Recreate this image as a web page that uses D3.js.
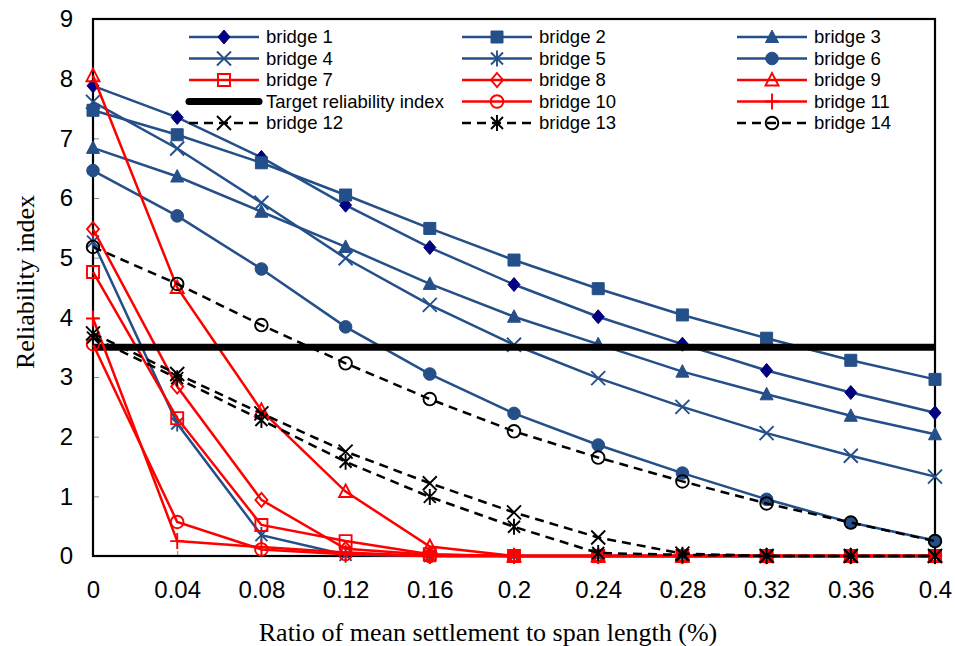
<!DOCTYPE html>
<html lang="en">
<head>
<meta charset="UTF-8">
<title>Reliability index vs settlement</title>
<script src="https://d3js.org/d3.v7.min.js"></script>
<style>
  body { margin: 0; background: #fff; }
  svg { display: block; }
  .tick text { font-family: "Liberation Sans", Arial, sans-serif; font-size: 24px; fill: #000; }
  .legend text { font-family: "Liberation Sans", Arial, sans-serif; font-size: 18.5px; fill: #000; }
  .title { font-family: "Liberation Serif", "Times New Roman", serif; font-size: 26px; fill: #000; }
</style>
</head>
<body>
<div id="chart"></div>
<script>
// x categories (ratio of mean settlement to span length, %)
var xValues = [0, 0.04, 0.08, 0.12, 0.16, 0.2, 0.24, 0.28, 0.32, 0.36, 0.4];
var xTickLabels = ["0", "0.04", "0.08", "0.12", "0.16", "0.2", "0.24", "0.28", "0.32", "0.36", "0.4"];
var yTicks = [0, 1, 2, 3, 4, 5, 6, 7, 8, 9];

// reliability index for each bridge
var bridge1  = [7.88, 7.35, 6.68, 5.88, 5.17, 4.55, 4.01, 3.55, 3.11, 2.74, 2.40];
var bridge2  = [7.47, 7.06, 6.59, 6.05, 5.49, 4.96, 4.48, 4.04, 3.65, 3.28, 2.96];
var bridge3  = [6.84, 6.36, 5.77, 5.18, 4.56, 4.01, 3.55, 3.09, 2.71, 2.35, 2.04];
var bridge4  = [7.61, 6.83, 5.92, 4.99, 4.21, 3.54, 2.98, 2.50, 2.06, 1.68, 1.33];
var bridge5  = [5.27, 2.22, 0.35, 0.02, 0, 0, 0, 0, 0, 0, 0];
var bridge6  = [6.46, 5.70, 4.81, 3.84, 3.05, 2.39, 1.86, 1.39, 0.95, 0.56, 0.26];
var bridge7  = [4.76, 2.31, 0.52, 0.25, 0.03, 0, 0, 0, 0, 0, 0];
var bridge8  = [5.48, 2.84, 0.94, 0.12, 0.02, 0, 0, 0, 0, 0, 0];
var bridge9  = [8.05, 4.50, 2.44, 1.08, 0.16, 0, 0, 0, 0, 0, 0];
var bridge10 = [3.55, 0.57, 0.11, 0.03, 0, 0, 0, 0, 0, 0, 0];
var bridge11 = [3.98, 0.25, 0.15, 0.06, 0, 0, 0, 0, 0, 0, 0];
var bridge12 = [3.73, 3.05, 2.39, 1.75, 1.22, 0.73, 0.31, 0.04, 0, 0, 0];
var bridge13 = [3.66, 2.98, 2.28, 1.58, 0.99, 0.49, 0.05, 0.02, 0, 0, 0];
var bridge14 = [5.18, 4.56, 3.87, 3.23, 2.63, 2.09, 1.65, 1.25, 0.88, 0.56, 0.25];
var targetIndex = 3.5;

var blue = "#244f88", red = "#ff0000", navy = "#000080";

// legend order (row by row) is also draw order
var series = [
  {name: "bridge 1",  values: bridge1,  color: blue, marker: "diamond",  mfill: navy, mstroke: navy},
  {name: "bridge 2",  values: bridge2,  color: blue, marker: "square",   mfill: blue, mstroke: blue},
  {name: "bridge 3",  values: bridge3,  color: blue, marker: "triangle", mfill: blue, mstroke: blue},
  {name: "bridge 4",  values: bridge4,  color: blue, marker: "x",        mfill: "none", mstroke: blue},
  {name: "bridge 5",  values: bridge5,  color: blue, marker: "star",     mfill: "none", mstroke: blue},
  {name: "bridge 6",  values: bridge6,  color: blue, marker: "circle",   mfill: blue, mstroke: blue},
  {name: "bridge 7",  values: bridge7,  color: red,  marker: "square",   mfill: "none", mstroke: red},
  {name: "bridge 8",  values: bridge8,  color: red,  marker: "diamond",  mfill: "none", mstroke: red},
  {name: "bridge 9",  values: bridge9,  color: red,  marker: "triangle", mfill: "none", mstroke: red},
  {name: "Target reliability index", target: true, color: "#000"},
  {name: "bridge 10", values: bridge10, color: red,  marker: "circle",   mfill: "none", mstroke: red},
  {name: "bridge 11", values: bridge11, color: red,  marker: "plus",     mfill: "none", mstroke: red},
  {name: "bridge 12", values: bridge12, color: "#000", marker: "x",      mfill: "none", mstroke: "#000", dash: true},
  {name: "bridge 13", values: bridge13, color: "#000", marker: "star",   mfill: "none", mstroke: "#000", dash: true},
  {name: "bridge 14", values: bridge14, color: "#000", marker: "circle", mfill: "none", mstroke: "#000", dash: true}
];

var width = 955, height = 646;
var x = d3.scaleLinear().domain([0, 0.4]).range([93, 935]);
var y = d3.scaleLinear().domain([0, 9]).range([556, 19]);

var svg = d3.select("#chart").append("svg")
  .attr("width", width)
  .attr("height", height);

// marker path for each shape, centred on 0,0
function markerPath(type) {
  switch (type) {
    case "diamond":  return "M0,-7L6,0L0,7L-6,0Z";
    case "square":   return "M-6,-6H6V6H-6Z";
    case "triangle": return "M0,-7L6.5,5.5H-6.5Z";
    case "circle":   return "M6.3,0A6.3,6.3 0 1,1 -6.3,0A6.3,6.3 0 1,1 6.3,0Z";
    case "x":        return "M-7,-7L7,7M-7,7L7,-7";
    case "star":     return "M-6,-6L6,6M-6,6L6,-6M0,-8V8";
    case "plus":     return "M-7,0H7M0,-8V8";
  }
}

// axes with inside ticks
svg.append("g")
  .attr("transform", "translate(93,0)")
  .call(d3.axisLeft(y).tickValues(yTicks).tickSizeInner(-6).tickSizeOuter(0).tickPadding(20).tickFormat(d3.format("d")))
  .call(function(g) { g.select(".domain").remove(); })
  .call(function(g) { g.selectAll(".tick line").attr("stroke", "#888"); });

svg.append("g")
  .attr("transform", "translate(0,556)")
  .call(d3.axisBottom(x).tickValues(xValues).tickSizeInner(-5).tickSizeOuter(0).tickPadding(25)
    .tickFormat(function(d, i) { return xTickLabels[i]; }))
  .call(function(g) { g.select(".domain").remove(); })
  .call(function(g) { g.selectAll(".tick line").attr("stroke", "#888"); });

// plot frame
svg.append("rect")
  .attr("x", x(0)).attr("y", y(9))
  .attr("width", x(0.4) - x(0)).attr("height", y(0) - y(9))
  .attr("fill", "none").attr("stroke", "#000").attr("stroke-width", 2.2);

var line = d3.line()
  .x(function(d, i) { return x(xValues[i]); })
  .y(function(d) { return y(d); });

var plot = svg.append("g");

series.forEach(function(s) {
  if (s.target) {
    plot.append("line")
      .attr("x1", x(0)).attr("x2", x(0.4))
      .attr("y1", y(targetIndex)).attr("y2", y(targetIndex))
      .attr("stroke", "#000").attr("stroke-width", 7);
    return;
  }
  var g = plot.append("g");
  g.append("path")
    .attr("d", line(s.values))
    .attr("fill", "none")
    .attr("stroke", s.color)
    .attr("stroke-width", 2.5)
    .attr("stroke-dasharray", s.dash ? "9,6" : null);
  g.selectAll(".m")
    .data(s.values)
    .enter().append("path")
    .attr("class", "m")
    .attr("transform", function(d, i) { return "translate(" + x(xValues[i]) + "," + y(d) + ")"; })
    .attr("d", markerPath(s.marker))
    .attr("fill", s.mfill)
    .attr("stroke", s.mstroke)
    .attr("stroke-width", s.mfill === "none" ? 1.9 : 1);
});

// legend, 3 columns
var legendCols = [189, 462, 737];
var legendRows = [37, 58.5, 80, 101.5, 123];
var legend = svg.append("g").attr("class", "legend");

series.forEach(function(s, i) {
  var lx = legendCols[i % 3], ly = legendRows[Math.floor(i / 3)];
  var g = legend.append("g").attr("transform", "translate(" + lx + "," + ly + ")");
  if (s.target) {
    g.append("line").attr("x1", 0).attr("x2", 70).attr("y1", 0).attr("y2", 0)
      .attr("stroke", "#000").attr("stroke-width", 7).attr("stroke-linecap", "round");
  } else {
    g.append("line").attr("x1", 0).attr("x2", 70).attr("y1", 0).attr("y2", 0)
      .attr("stroke", s.color).attr("stroke-width", 2.5)
      .attr("stroke-dasharray", s.dash ? "9,6" : null);
    g.append("path")
      .attr("transform", "translate(35,0)")
      .attr("d", markerPath(s.marker))
      .attr("fill", s.mfill)
      .attr("stroke", s.mstroke)
      .attr("stroke-width", s.mfill === "none" ? 1.9 : 1);
  }
  g.append("text").attr("x", 77).attr("dy", "0.35em").text(s.name);
});

// axis titles
svg.append("text")
  .attr("class", "title")
  .attr("x", 488).attr("y", 641)
  .attr("text-anchor", "middle")
  .text("Ratio of mean settlement to span length (%)");

svg.append("text")
  .attr("class", "title")
  .attr("transform", "translate(34,282) rotate(-90)")
  .attr("text-anchor", "middle")
  .text("Reliability index");
</script>
</body>
</html>
